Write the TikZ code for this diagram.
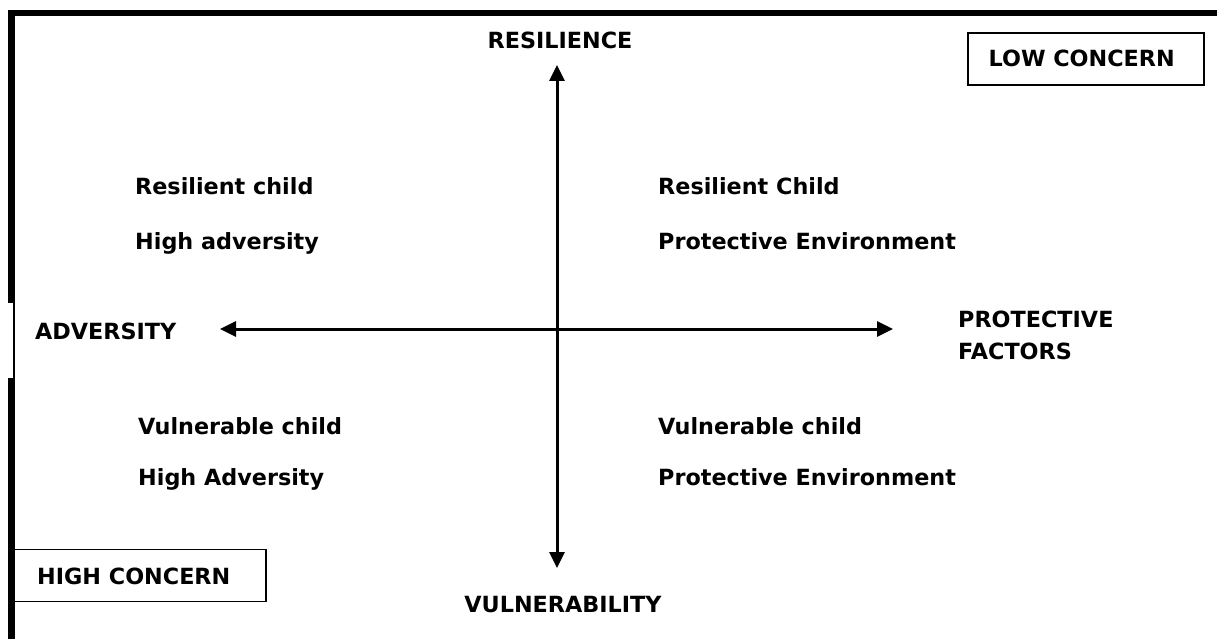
\documentclass[tikz,border=0pt]{standalone}
\usepackage{fontspec}
\setmainfont{DejaVu Sans}
\usetikzlibrary{arrows.meta}
\begin{document}
\begin{tikzpicture}[x=1pt,y=-1pt,
  lbl/.style={font=\fontsize{22.3}{26}\selectfont\bfseries, inner sep=0pt, anchor=base west},
  clbl/.style={font=\fontsize{22.3}{26}\selectfont\bfseries, inner sep=0pt, anchor=base},
  concern/.style={draw, line width=1.5pt, minimum height=52pt, inner sep=0pt},
  axis/.style={line width=3pt, {Triangle[length=16pt,width=15pt]}-{Triangle[length=16pt,width=15pt]}}]
  \useasboundingbox (0,0) rectangle (1217,639);

  % outer frame: heavy top and left rules, with a thin stretch on the left
  \fill (8,10) rectangle (1217,16);
  \fill (8,10) rectangle (15,303);
  \fill (13,303) rectangle (15,378);
  \fill (8,378) rectangle (15,639);

  % concern boxes
  \node[concern, minimum width=236pt] (low) at (1086,59) {};
  \node[lbl, anchor=base east] (lowt) at (1175,67) {LOW CONCERN};
  \node[concern, minimum width=252pt] (high) at (140,575.5) {};
  \node[lbl] (hight) at (37,584) {HIGH CONCERN};

  % axes
  \coordinate (ytop) at (557,65);
  \coordinate (ybot) at (557,568);
  \coordinate (xleft) at (220,329);
  \coordinate (xright) at (893,329);
  \draw[axis] (ytop) -- (ybot);
  \draw[axis] (xleft) -- (xright);

  % axis labels
  \node[clbl] (res) at (560,49) {RESILIENCE};
  \node[clbl] (vul) at (563,612) {VULNERABILITY};
  \node[lbl] (adv) at (35,339) {ADVERSITY};
  \node[lbl] (prot1) at (958,327) {PROTECTIVE};
  \node[lbl] (prot2) at (958,359) {FACTORS};

  % quadrant labels
  \node[lbl] (q1a) at (135,194) {Resilient child};
  \node[lbl] (q1b) at (135,249) {High adversity};
  \node[lbl] (q2a) at (658,194) {Resilient Child};
  \node[lbl] (q2b) at (658,249) {Protective Environment};
  \node[lbl] (q3a) at (138,434) {Vulnerable child};
  \node[lbl] (q3b) at (138,485) {High Adversity};
  \node[lbl] (q4a) at (658,434) {Vulnerable child};
  \node[lbl] (q4b) at (658,485) {Protective Environment};
\end{tikzpicture}
\end{document}
